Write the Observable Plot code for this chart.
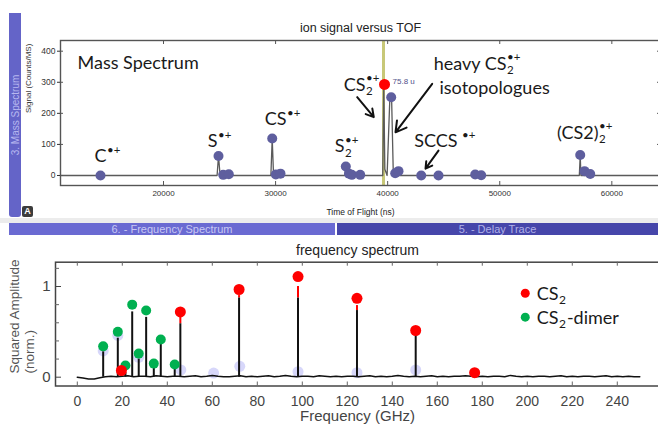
<!DOCTYPE html>
<html><head><meta charset="utf-8">
<script src="https://cdn.jsdelivr.net/npm/d3@7"></script>
<script src="https://cdn.jsdelivr.net/npm/@observablehq/plot@0.6"></script>
<style>
html,body{margin:0;padding:0;background:#fff;overflow:hidden;}
#wrap{position:relative;width:658px;height:424px;overflow:hidden;font-family:"Liberation Sans",Arial,sans-serif;}
.abs{position:absolute;}
</style></head><body>
<div id="wrap">
  <div id="topPlot" class="abs" style="left:0;top:0"></div>
  <div id="botPlot" class="abs" style="left:0;top:236px"></div>
  <div class="abs" style="left:9px;top:13px;width:12px;height:204px;background:#6464c8;border-radius:0 0 3px 3px;"></div>
  <div class="abs" style="left:15px;top:115px;transform:translate(-50%,-50%) rotate(-90deg);color:#b8b8f0;font-size:10px;white-space:nowrap;">3. Mass Spectrum</div>
  <div class="abs" style="left:22px;top:206px;width:11px;height:11px;background:#3c3c3c;border-radius:2px;color:#fff;font-size:9px;line-height:11px;text-align:center;font-weight:bold;">A</div>
  <div class="abs" style="left:0;top:218px;width:658px;height:5px;background:#ececec;"></div>
  <div class="abs" style="left:9px;top:223px;width:326px;height:12px;background:#6a6ad2;color:#c8c8f4;font-size:11px;line-height:12px;text-align:center;white-space:nowrap;overflow:hidden;">6. - Frequency Spectrum</div>
  <div class="abs" style="left:337px;top:223px;width:321px;height:12px;background:#4646aa;color:#b0b0e8;font-size:11px;line-height:12px;text-align:center;white-space:nowrap;overflow:hidden;">5. - Delay Trace</div>
</div>
<script>
// ---------- Mass spectrum (top) ----------
const tofTicks = [20000, 30000, 40000, 50000, 60000];
const signalTicks = [0, 100, 200, 300, 400];
const traceTof =    [10810, 24780, 24907, 25050, 29580, 29699, 29820, 36180, 36266, 36350, 39560, 39650, 39750, 39950, 40200, 40350, 40500, 40650, 57100, 57180, 57240, 64342];
const traceSignal = [0,     0,     63,    0,     0,     119,   0,     0,     29,    0,     0,     293,   20,    0,     255,   250,   10,    0,     0,     66,    0,     0];
const peakTof =    [14379, 24907, 25327, 25827, 29699, 30019, 30439, 36266, 36550, 36800, 37550, 40315, 40672, 40967, 42992, 44536, 47810, 48345, 57180, 57563, 58072];
const peakSignal = [0,     63,    2,     4,     119,   3,     6,     29,    6,     2,     2,     252,   7,     14,    0,     0,     3,     1,     66,    14,    5];
const markerTof = [39718];
const markerSignal = [293];
const markerLabel = ["75.8 u"];
const gateTof = [39630];
const annBase = ["C", "S", "CS", "S", "CS", "heavy CS", "SCCS", "(CS2)"];
const annSup  = ["•+", "•+", "•+", "•+", "•+", "•+", "•+", "•+"];
const annSub  = ["", "", "", "2", "2", "2", "", "2"];
const annX    = [14914, 24818, 30974, 36148, 38022, 50602, 46230, 58810];
const annSupX = [14914, 24818, 30974, 36148, 38022, 50602, 46587, 58810];
const annY    = [42, 91, 161, 74, 273, 340, 91, 119];
const noteText = ["Mass Spectrum", "isotopologues"];
const noteX = [12327, 44625];
const noteY = [343, 263];
const arrowX1 = [37281, 43973, 44535];
const arrowY1 = [252, 295, 80];
const arrowX2 = [38763, 40699, 43375];
const arrowY2 = [188, 139, 22];

// ---------- Frequency spectrum (bottom) ----------
const freqTicks = [0, 20, 40, 60, 80, 100, 120, 140, 160, 180, 200, 220, 240];
const ampTicks = [0, 1];
const ampMinor = [0.2, 0.4, 0.6, 0.8, 1.2];
const cs2Freq  = [19.6, 45.8, 71.9, 98.1, 124.3, 150.4, 176.6];
const cs2Amp   = [0.074, 0.72, 0.967, 1.11, 0.87, 0.515, 0.05];
const cs2Stem  = [0.03, 0.59, 0.875, 0.875, 0.735, 0.46, 0.02];
const cs2Red   = [0.03, 0.68, 0.90, 1.0, 0.79, 0.46, 0.02];
const dimerFreq = [11.5, 18.0, 21.4, 24.4, 27.3, 30.6, 34.0, 37.1, 43.3];
const dimerAmp  = [0.34, 0.50, 0.13, 0.80, 0.26, 0.735, 0.15, 0.415, 0.14];
const dimerStem = [0.28, 0.43, 0.05, 0.72, 0.20, 0.66, 0.10, 0.37, 0.10];
const fitFreq = [11.5, 18.0, 27.3, 46.0, 60.6, 72.2, 98.1, 124.3, 150.4];
const fitAmp  = [0.29, 0.46, 0.22, 0.08, 0.045, 0.12, 0.06, 0.05, 0.08];
const noiseFreq = [0,2.5,5,7.5,10,12.5,15,17.5,20,22.5,25,27.5,30,32.5,35,37.5,40,42.5,45,47.5,50,52.5,55,57.5,60,62.5,65,67.5,70,72.5,75,77.5,80,82.5,85,87.5,90,92.5,95,97.5,100,102.5,105,107.5,110,112.5,115,117.5,120,122.5,125,127.5,130,132.5,135,137.5,140,142.5,145,147.5,150,152.5,155,157.5,160,162.5,165,167.5,170,172.5,175,177.5,180,182.5,185,187.5,190,192.5,195,197.5,200,202.5,205,207.5,210,212.5,215,217.5,220,222.5,225,227.5,230,232.5,235,237.5,240,242.5,245,247.5,250];
const noiseAmp = [0,-0.01,-0.02,-0.02,-0.005,0.005,0.01,0.005,0.01,0.015,
  0.005,0.01,0.01,0.005,0.015,0.01,0.005,0.01,0.01,0.005,
  0.01,0.015,0.005,0.01,0.02,0.01,0.005,0.005,0.01,0.015,
  0.005,0.01,0.005,0.01,0.015,0.005,0.01,0.02,0.01,0.005,
  0.01,0.01,0.005,0.015,0.01,0.005,0.01,0.005,0.01,0.01,
  0.005,0.01,0.015,0.005,0.01,0.005,0.01,0.02,0.01,0.005,
  0.01,0.005,0.01,0.015,0.005,0.01,0.005,0.01,0.01,0.015,
  0.01,0.005,0.01,0.005,0.01,0.01,0.005,0.02,0.01,0.005,
  0.01,0.005,0.01,0.01,0.005,0.01,0.015,0.005,0.01,0.005,
  0.01,0.01,0.005,0.01,0.015,0.005,0.01,0.005,0.01,0.005,
  0.005];
const legendLabel = ["CS", "CS"];
const legendRest = ["", "-dimer"];
const legendColor = ["#ff0000", "#00b050"];
const legendDotX = 199.1, legendTextX = 213.9, legendRestX = 217.6;
const legendDotY = [0.926, 0.662];
const legendTextY = [0.846, 0.589];

const idx = a => a.map((_, i) => i);
const LATO = "Lato, 'Open Sans', sans-serif";
const INK = "#1a1a1a";

const topChart = Plot.plot({
  width: 662, height: 215,
  marginLeft: 60, marginRight: 2, marginTop: 40, marginBottom: 30,
  style: {fontFamily: "'Liberation Sans', Arial, sans-serif", background: "transparent", maxWidth: "none", overflow: "visible"},
  x: {domain: [10810, 64342]},
  y: {domain: [-32.2, 434.4]},
  marks: [
    Plot.ruleX(gateTof, {x: d => d, stroke: "#c8c878", strokeWidth: 3}),
    Plot.line(idx(traceTof), {x: i => traceTof[i], y: i => traceSignal[i], stroke: "#5a5a5a", strokeWidth: 1.3}),
    Plot.dot(idx(peakTof), {x: i => peakTof[i], y: i => peakSignal[i], r: 5, fill: "#5e5e9e"}),
    Plot.dot(idx(markerTof), {x: i => markerTof[i], y: i => markerSignal[i], r: 5.5, fill: "#ff0000"}),
    Plot.text(idx(markerTof), {x: i => markerTof[i], y: i => markerSignal[i], text: i => markerLabel[i], dx: 8, dy: -3, textAnchor: "start", fontSize: 8, fill: "#50508a"}),
    Plot.frame({stroke: "#555", strokeWidth: 1.4}),
    Plot.ruleX(tofTicks, {x: d => d, stroke: "#555", insetTop: 141}),
    Plot.ruleX(tofTicks, {x: d => d, stroke: "#555", insetBottom: 141}),
    Plot.ruleY(signalTicks, {y: d => d, stroke: "#555", insetRight: 597}),
    Plot.ruleY(signalTicks, {y: d => d, stroke: "#555", insetLeft: 597}),
    Plot.axisX({ticks: tofTicks, tickSize: 0, tickPadding: 5, fontSize: 8, color: "#333", label: null, tickFormat: d => String(d)}),
    Plot.axisY({ticks: signalTicks, tickSize: 3, tickPadding: 2, fontSize: 8.5, color: "#333", label: null, tickFormat: d => String(d)}),
    Plot.text(["ion signal versus TOF"], {text: d => d, frameAnchor: "top", lineAnchor: "middle", dy: -13, fontSize: 12.5, fill: "#222"}),
    Plot.text(["Time of Flight (ns)"], {text: d => d, frameAnchor: "bottom", lineAnchor: "middle", dy: 27, fontSize: 8.5, fill: "#222"}),
    Plot.text(["Signal (Counts/MS)"], {text: d => d, frameAnchor: "left", dx: -32, rotate: -90, fontSize: 8, fill: "#333"}),
    Plot.text(idx(noteText), {x: i => noteX[i], y: i => noteY[i], text: i => noteText[i], textAnchor: "start", lineAnchor: "bottom", fontSize: 18, fontFamily: LATO, fill: INK}),
    Plot.text(idx(annBase), {x: i => annX[i], y: i => annY[i], text: i => annBase[i], textAnchor: "end", lineAnchor: "bottom", fontSize: 18, fontFamily: LATO, fill: INK}),
    Plot.text(idx(annSup), {x: i => annSupX[i], y: i => annY[i], text: i => annSup[i], textAnchor: "start", lineAnchor: "bottom", dy: -8.5, dx: 0.5, fontSize: 11.5, fontFamily: LATO, fill: INK}),
    Plot.text(idx(annSub), {x: i => annX[i], y: i => annY[i], text: i => annSub[i], textAnchor: "start", lineAnchor: "bottom", dy: 4.5, dx: 0.5, fontSize: 11.5, fontFamily: LATO, fill: INK}),
    Plot.arrow(idx(arrowX1), {x1: i => arrowX1[i], y1: i => arrowY1[i], x2: i => arrowX2[i], y2: i => arrowY2[i], stroke: "#111", strokeWidth: 2, headLength: 9})
  ]
});
document.getElementById("topPlot").appendChild(topChart);

const botChart = Plot.plot({
  width: 662, height: 188,
  marginLeft: 55, marginRight: 3, marginTop: 25.7, marginBottom: 38.5,
  style: {fontFamily: "'Liberation Sans', Arial, sans-serif", background: "transparent", maxWidth: "none", overflow: "visible"},
  x: {domain: [-9.69, 258.76]},
  y: {domain: [-0.097, 1.268]},
  marks: [
    Plot.dot(idx(fitFreq), {x: i => fitFreq[i], y: i => fitAmp[i], r: 5.5, fill: "#8c8cf0", fillOpacity: 0.35}),
    Plot.line(idx(noiseFreq), {x: i => noiseFreq[i], y: i => noiseAmp[i], stroke: "#111", strokeWidth: 1.5}),
    Plot.ruleX(idx(dimerFreq), {x: i => dimerFreq[i], y1: 0, y2: i => dimerStem[i], stroke: "#111", strokeWidth: 2}),
    Plot.ruleX(idx(cs2Freq), {x: i => cs2Freq[i], y1: 0, y2: i => cs2Stem[i], stroke: "#111", strokeWidth: 2}),
    Plot.ruleX(idx(cs2Freq), {x: i => cs2Freq[i], y1: i => cs2Stem[i], y2: i => cs2Red[i], stroke: "#ff0000", strokeWidth: 2}),
    Plot.dot(idx(dimerFreq), {x: i => dimerFreq[i], y: i => dimerAmp[i], r: 5, fill: "#00b050"}),
    Plot.dot(idx(cs2Freq), {x: i => cs2Freq[i], y: i => cs2Amp[i], r: 5.5, fill: "#ff0000"}),
    Plot.dot(idx(legendLabel), {x: () => legendDotX, y: i => legendDotY[i], r: 4.5, fill: i => legendColor[i]}),
    Plot.text(idx(legendLabel), {x: () => legendTextX, y: i => legendTextY[i], text: i => legendLabel[i], textAnchor: "end", lineAnchor: "bottom", fontSize: 18, fontFamily: LATO, fill: INK}),
    Plot.text(idx(legendLabel), {x: () => legendTextX, y: i => legendTextY[i], text: () => "2", textAnchor: "start", lineAnchor: "bottom", dy: 4, dx: 0.5, fontSize: 12, fontFamily: LATO, fill: INK}),
    Plot.text(idx(legendRest), {x: () => legendRestX, y: i => legendTextY[i], text: i => legendRest[i], textAnchor: "start", lineAnchor: "bottom", fontSize: 18, fontFamily: LATO, fill: INK}),
    Plot.frame({stroke: "#444", strokeWidth: 1.5}),
    Plot.ruleX(freqTicks, {x: d => d, stroke: "#666", insetTop: 119.8}),
    Plot.ruleX(freqTicks, {x: d => d, stroke: "#666", insetBottom: 119.8}),
    Plot.ruleY(ampTicks, {y: d => d, stroke: "#444", insetRight: 598}),
    Plot.ruleY(ampMinor, {y: d => d, stroke: "#666", insetRight: 600}),
    Plot.axisX({ticks: freqTicks, tickSize: 0, tickPadding: 10, fontSize: 14, color: "#444", label: null, tickFormat: d => String(d)}),
    Plot.axisY({ticks: ampTicks, tickSize: 0, tickPadding: 5, fontSize: 15, color: "#444", label: null, tickFormat: d => String(d)}),
    Plot.text(["frequency spectrum"], {text: d => d, frameAnchor: "top", lineAnchor: "middle", dy: -12, fontSize: 14, fill: "#222"}),
    Plot.text(["Frequency (GHz)"], {text: d => d, frameAnchor: "bottom", lineAnchor: "middle", dy: 30.5, fontSize: 15, fill: "#444"}),
    Plot.text(["Squared Amplitude"], {text: d => d, frameAnchor: "bottom-left", dx: -37, dy: -12.5, rotate: -90, textAnchor: "start", fontSize: 13.5, fill: "#555"}),
    Plot.text(["(norm.)"], {text: d => d, frameAnchor: "bottom-left", dx: -22, dy: -12.5, rotate: -90, textAnchor: "start", fontSize: 13.5, fill: "#555"})
  ]
});
document.getElementById("botPlot").appendChild(botChart);
</script>
</body></html>
